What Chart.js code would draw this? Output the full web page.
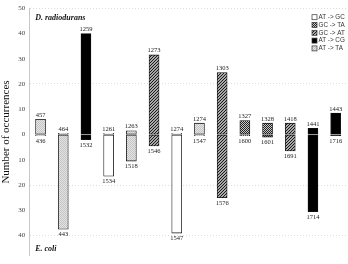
<!DOCTYPE html>
<html><head><meta charset="utf-8">
<script src="https://cdn.jsdelivr.net/npm/chart.js@4"></script>
<style>html,body{margin:0;padding:0;background:#fff}#wrap{width:348px;height:264px}</style>
</head><body><div id="wrap"><canvas id="c"></canvas></div>
<script>
const topLabels=['457','464','1259','1261','1263','1273','1274','1274','1303','1327','1328','1418','1441','1443'];
const botLabels=['436','443','1532','1534','1518','1546','1547','1547','1576','1600','1601','1691','1714','1716'];
// D. radiodurans counts (up), E. coli counts (down)
const radiodurans=[6,0.5,40,0.5,1.5,31.5,0.5,4.5,24.5,5.5,4.5,4.5,2.5,8.5];
const ecoli=[0.5,37.5,2,16.5,10.5,4.5,39,0.5,25,0.5,1,6.5,30.5,0.5];
const mutType=['AT -> TA','AT -> TA','AT -> CG','AT -> GC','AT -> TA','GC -> AT','AT -> GC','AT -> TA','GC -> AT','GC -> TA','GC -> TA','GC -> AT','AT -> CG','AT -> CG'];
const typeNames=['AT -> GC','GC -> TA','GC -> AT','AT -> CG','AT -> TA'];
const yTicks=[50,40,30,20,10,0,-10,-20,-30,-40];
const gridAt=[50,20,-20,-40];

function pat(size,draw){
const c=document.createElement('canvas');c.width=c.height=size;
const g=c.getContext('2d');draw(g);
return g.createPattern(c,'repeat');
}
const fills={
'AT -> GC':'#ffffff',
'GC -> TA':pat(2,g=>{g.fillStyle='#c8c8c8';g.fillRect(0,0,2,2);g.fillStyle='#222';g.fillRect(0,0,1,1);g.fillRect(1,1,1,1);}),
'GC -> AT':pat(3,g=>{g.fillStyle='#a8a8a8';g.fillRect(0,0,3,3);g.fillStyle='#1a1a1a';for(let i=0;i<3;i++)g.fillRect(i,2-i,1,1);}),
'AT -> CG':'#000000',
'AT -> TA':pat(2,g=>{g.fillStyle='#e4e4e4';g.fillRect(0,0,2,2);g.fillStyle='#c4c4c4';g.fillRect(0,0,1,1);g.fillRect(1,1,1,1);})
};

const datasets=[];
typeNames.forEach(t=>{
datasets.push({label:t,data:radiodurans.map((v,i)=>mutType[i]===t?v:null),backgroundColor:fills[t],borderColor:'#111',borderWidth:0.8,borderSkipped:false,barThickness:10,stack:'s'});
datasets.push({label:t,ecoli:true,data:ecoli.map((v,i)=>mutType[i]===t?-v:null),backgroundColor:fills[t],borderColor:'#111',borderWidth:0.8,borderSkipped:false,barThickness:10,stack:'s'});
});

const annot={id:'annot',afterDatasetsDraw(chart){
const {ctx,scales:{x,y},chartArea:a}=chart;
ctx.save();
ctx.fillStyle='#222';ctx.font='6.5px "Liberation Serif"';ctx.textAlign='center';
topLabels.forEach((t,i)=>{
const px=x.getPixelForValue(i);
ctx.textBaseline='bottom';ctx.fillText(t,px,y.getPixelForValue(radiodurans[i])-1);
ctx.textBaseline='top';ctx.fillText(botLabels[i],px,y.getPixelForValue(-ecoli[i])+2);
});
ctx.fillStyle='#111';ctx.font='bold italic 8px "Liberation Serif"';ctx.textAlign='left';ctx.textBaseline='middle';
ctx.fillText('D. radiodurans',a.left+6,a.top+10);
ctx.fillText('E. coli',a.left+6,a.bottom-7);
// legend top right
const lx=a.right-35,ly=a.top+9;
ctx.font='6.3px "Liberation Sans"';
typeNames.forEach((t,k)=>{
const yy=ly+k*7.8;
ctx.fillStyle=fills[t];ctx.fillRect(lx,yy-2.5,5,5);
ctx.strokeStyle='#333';ctx.lineWidth=0.7;ctx.strokeRect(lx,yy-2.5,5,5);
ctx.fillStyle='#333';ctx.fillText(t,lx+6.5,yy);
});
ctx.restore();
}};

new Chart(document.getElementById('c'),{
type:'bar',
data:{labels:topLabels,datasets},
options:{responsive:true,maintainAspectRatio:false,animation:false,
layout:{padding:{top:6,right:1,left:0,bottom:0}},
plugins:{legend:{display:false},tooltip:{enabled:false}},
scales:{
x:{display:false,stacked:true},
y:{stacked:true,min:-48,max:50,
afterBuildTicks:ax=>{ax.ticks=yTicks.map(v=>({value:v}));},
ticks:{callback:v=>Math.abs(v),font:{family:'Liberation Serif',size:7},color:'#444',padding:4},
grid:{drawTicks:false,color:c=>c.tick&&gridAt.includes(c.tick.value)?'#d4d4d4':'rgba(0,0,0,0)',lineWidth:0.8},
border:{display:true,color:'#c8c8c8',dash:[1,2]},
title:{display:true,text:'Number of occurrences',font:{family:'Liberation Serif',size:11},color:'#111',padding:{top:0,bottom:1}}
}
}
},
plugins:[annot]
});
</script>
</body></html>
